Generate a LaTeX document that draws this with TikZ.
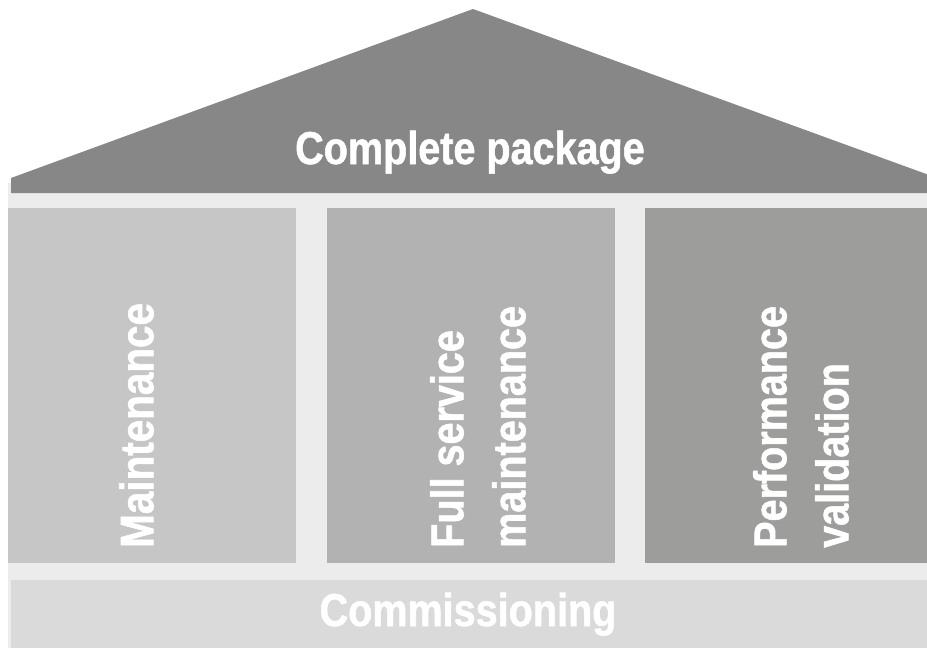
\documentclass[tikz,border=0pt]{standalone}
\usepackage{fontspec}
\newfontfamily\condfont{Liberation Sans Bold}[FakeStretch=0.86,FakeBold=1.2]
\definecolor{roofgray}{HTML}{878787}
\definecolor{bandgray}{HTML}{ECECEC}
\definecolor{colA}{HTML}{C6C6C6}
\definecolor{colB}{HTML}{B2B2B2}
\definecolor{colC}{HTML}{9D9D9B}
\definecolor{basegray}{HTML}{DADADA}
\tikzset{
  lbl/.style={text=white, inner sep=0pt, font=\condfont\fontsize{46}{62}\selectfont},
  vlbl/.style={lbl, rotate=90, align=left, anchor=south west},
}
\begin{document}
\begin{tikzpicture}[x=1pt,y=-1pt]
\useasboundingbox (0,0) rectangle (927,648);
\begin{scope}
\clip (0,0) rectangle (927,648);
% background band
\fill[bandgray] (8,183) rectangle (940,660);
% roof
\fill[roofgray] (11,178) -- (473,9) -- (940,179) -- (940,193) -- (11,193) -- cycle;
% columns
\fill[colA] (8,208) rectangle (296,563);
\fill[colB] (327,208) rectangle (615,563);
\fill[colC] (645,208) rectangle (940,563);
% base
\fill[basegray] (11,580) rectangle (940,660);
\end{scope}
\node[lbl, anchor=base] (roof) at (470,164) {Complete package};
\node[lbl, anchor=base] (base) at (468,626) {Commissioning};
\node[vlbl] (m) at (154,548) {\fontsize{47}{62}\selectfont Maintenance};
\node[vlbl] (fs) at (526,548) {Full service\\maintenance};
\node[vlbl] (pv) at (849,548) {Performance\\validation};
\end{tikzpicture}
\end{document}
